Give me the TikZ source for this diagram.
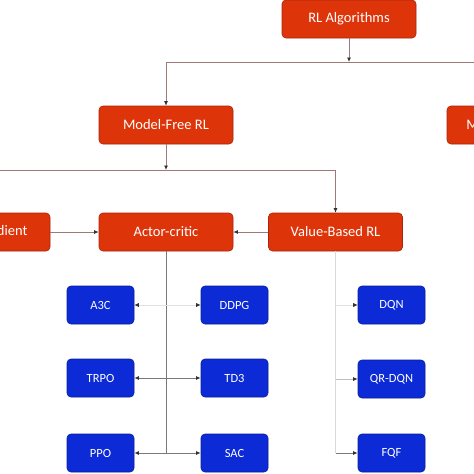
\documentclass[tikz,border=0pt]{standalone}
\usepackage{fontspec}
\setmainfont{Carlito}
\usetikzlibrary{arrows.meta}
\definecolor{rlred}{RGB}{222,52,10}
\definecolor{rlredb}{RGB}{170,35,10}
\definecolor{rlblue}{RGB}{12,42,214}
\definecolor{rlblueb}{RGB}{10,30,150}
\definecolor{lnred}{RGB}{160,120,120}
\definecolor{lngray}{RGB}{120,120,125}
\tikzset{
  redbox/.style={draw=rlredb, fill=rlred, rounded corners=4pt, line width=0.6pt,
    minimum width=134pt, minimum height=38pt, text=white, font=\fontsize{14.5}{16}\selectfont, inner sep=0pt},
  bluebox/.style={draw=rlblueb, fill=rlblue, rounded corners=4pt, line width=0.6pt,
    minimum width=67pt, minimum height=38pt, text=white, font=\fontsize{12.5}{14}\selectfont, inner sep=0pt},
  tip/.style={-{Latex[length=4.5pt,width=4pt,color=black!80]}},
  conn/.style={draw=lnred, line width=0.8pt},
  gconn/.style={draw=lngray, line width=0.9pt},
  fconn/.style={draw=black!12, line width=0.6pt},
}
\begin{document}
\begin{tikzpicture}[x=1pt,y=-1pt]
\useasboundingbox (0,0) rectangle (474,474);
\clip (0,0) rectangle (474,474);
\fill[white] (0,0) rectangle (474,474);
% top level
\node[redbox] (rl) at (349,19) {RL Algorithms};
\node[redbox] (mf) at (166,125) {Model-Free RL};
\node[redbox] (mb) at (514,125) {Model-Based RL};
% second level
\node[redbox] (pg) at (-17,232) {Policy Gradient};
\node[redbox] (ac) at (166,232) {Actor-critic};
\node[redbox] (vb) at (335.5,232) {Value-Based RL};
% algorithms
\node[bluebox] (a3c) at (100.5,305) {A3C};
\node[bluebox] (ddpg) at (234.5,305) {DDPG};
\node[bluebox] (dqn) at (391.5,305) {DQN};
\node[bluebox] (trpo) at (100.5,378) {TRPO};
\node[bluebox] (td3) at (234.5,378) {TD3};
\node[bluebox] (qrdqn) at (391.5,379) {QR-DQN};
\node[bluebox] (ppo) at (100.5,453) {PPO};
\node[bluebox] (sac) at (234.5,453) {SAC};
\node[bluebox] (fqf) at (391.5,453) {FQF};
% junction coordinates
\coordinate (j1) at (349,62);
\coordinate (j1l) at (166,62);
\coordinate (j1r) at (514,62);
\coordinate (j2) at (166,170);
\coordinate (j2l) at (-17,170);
\coordinate (j2r) at (335.5,170);
\coordinate (t1) at (166,305);
\coordinate (t2) at (166,378);
\coordinate (t3) at (166,453);
\coordinate (r1) at (335.5,305);
\coordinate (r2) at (335.5,379);
\coordinate (r3) at (335.5,453);
% top connectors
\draw[conn,tip] (rl.south) -- (j1);
\draw[conn] (j1l) -- (j1r);
\draw[conn,tip] (j1l) -- (mf.north);
\draw[conn,tip] (j1r) -- (mb.north);
\draw[conn,tip] (mf.south) -- (j2);
\draw[conn] (j2l) -- (j2r);
\draw[conn,tip] (j2r) -- (vb.north);
\draw[conn,tip] (j2l) -- (pg.north);
\draw[conn,tip] (pg.east) -- (ac.west);
\draw[conn,tip] (vb.west) -- (ac.east);
% actor-critic trunk
\draw[gconn] (ac.south) -- (t3);
\draw[fconn,tip] (t1) -- (a3c.east);
\draw[fconn,tip] (t1) -- (ddpg.west);
\draw[gconn,tip] (t2) -- (trpo.east);
\draw[gconn,tip] (t2) -- (td3.west);
\draw[gconn,tip] (t3) -- (ppo.east);
\draw[gconn,tip] (t3) -- (sac.west);
% value-based trunk
\draw[draw=black!15, line width=0.8pt] (vb.south) -- (r3);
\draw[fconn,tip] (r1) -- (dqn.west);
\draw[draw=black!25, line width=0.7pt,tip] (r2) -- (qrdqn.west);
\draw[gconn,tip] (r3) -- (fqf.west);
\end{tikzpicture}
\end{document}
